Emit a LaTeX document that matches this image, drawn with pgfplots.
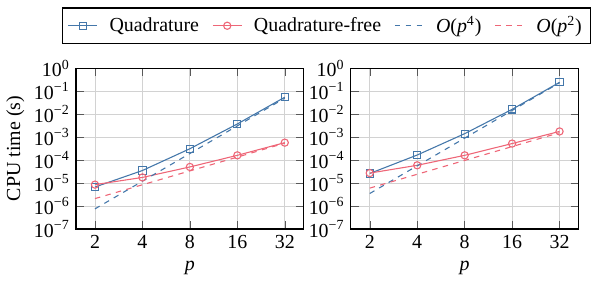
\documentclass[border=0pt]{standalone}
\usepackage{fontspec}
\setmainfont{Liberation Serif}
\usepackage{pgfplots}
\pgfplotsset{compat=1.18}
\definecolor{tolblue}{HTML}{4477AA}
\definecolor{tolred}{HTML}{EE6677}
\newcommand{\tp}[1]{10\textsuperscript{#1}}
\newcommand{\ffont}{\fontsize{11}{13}\selectfont}
\newcommand{\gapR}{\rule{5.3pt}{0pt}}
\begin{document}
\begin{tikzpicture}[font=\ffont]
\begin{axis}[name=left,
    scale only axis, width=125.8pt, height=88.9pt,
    xmode=log, ymode=log, log basis x=2,
    xmin=1.516, xmax=42.22, ymin=1e-7, ymax=1,
    xtick={2,4,8,16,32}, xticklabels={2,4,8,16,32},
    ytick={1e-7,1e-6,1e-5,1e-4,1e-3,1e-2,1e-1,1},
    yticklabels={\tp{−7},\tp{−6},\tp{−5},\tp{−4},\tp{−3},\tp{−2},\tp{−1},\tp{0}},
    yminorticks=false, xminorticks=false,
    grid=major, major grid style={gray!35, line width=0.5pt},
    axis line style={line width=0.6pt},
    tick style={gray!70!black},
    tick align=inside,
    tick label style={font=\ffont},
    label style={font=\ffont},
    xlabel={\textit{p}},
    every axis plot/.append style={line width=0.6pt},
    ylabel={CPU time (s)},
    ylabel style={yshift=-1.5pt},
    legend columns=4,
    legend image code/.code={\draw[mark repeat=2,mark phase=2] plot coordinates {(0cm,0cm) (0.28cm,0cm) (0.56cm,0cm)};},
    legend style={at={(1.1006,1.1496)}, anchor=south, draw=black, line width=0.6pt,
      font=\ffont, inner xsep=3pt, inner ysep=2.5pt},
    legend cell align=left]
\coordinate (O) at (rel axis cs:0,0);
\addplot[color=tolblue, mark=square, mark size=2pt] coordinates {(2,6.7e-6) (4,3.5e-5) (8,3.1e-4) (16,3.7e-3) (32,5.4e-2)};
\addlegendentry{\hspace{4.5pt}Quadrature\gapR}
\addplot[color=tolred, mark=o, mark size=2pt] coordinates {(2,8.5e-6) (4,1.75e-5) (8,5e-5) (16,1.6e-4) (32,5.7e-4)};
\addlegendentry{\hspace{4.5pt}Quadrature-free\gapR}
\addplot[color=tolblue, dashed] coordinates {(2,7.5e-7) (4,1.2e-5) (8,1.92e-4) (16,3.07e-3) (32,4.9e-2)};
\addlegendentry{\hspace{4.5pt}\textit{O}(\textit{p}\textsuperscript{4})\gapR}
\addplot[color=tolred, dashed] coordinates {(2,2.1e-6) (4,8.4e-6) (8,3.36e-5) (16,1.34e-4) (32,5.4e-4)};
\addlegendentry{\hspace{4.5pt}\textit{O}(\textit{p}\textsuperscript{2})}
\end{axis}
\begin{axis}[at={(left.south east)}, xshift=26pt, anchor=south west,
    scale only axis, width=125.8pt, height=88.9pt,
    xmode=log, ymode=log, log basis x=2,
    xmin=1.516, xmax=42.22, ymin=1e-7, ymax=1,
    xtick={2,4,8,16,32}, xticklabels={2,4,8,16,32},
    ytick={1e-7,1e-6,1e-5,1e-4,1e-3,1e-2,1e-1,1},
    yticklabels={\tp{−7},\tp{−6},\tp{−5},\tp{−4},\tp{−3},\tp{−2},\tp{−1},\tp{0}},
    yminorticks=false, xminorticks=false,
    grid=major, major grid style={gray!35, line width=0.5pt},
    axis line style={line width=0.6pt},
    tick style={gray!70!black},
    tick align=inside,
    tick label style={font=\ffont},
    label style={font=\ffont},
    xlabel={\textit{p}},
    every axis plot/.append style={line width=0.6pt}]
\addplot[color=tolblue, mark=square, mark size=2pt] coordinates {(2,2.6e-5) (4,1.65e-4) (8,1.4e-3) (16,1.6e-2) (32,0.24)};
\addplot[color=tolred, mark=o, mark size=2pt] coordinates {(2,2.7e-5) (4,5.9e-5) (8,1.6e-4) (16,5.2e-4) (32,1.75e-3)};
\addplot[color=tolblue, dashed] coordinates {(2,3.5e-6) (4,5.6e-5) (8,8.96e-4) (16,1.43e-2) (32,0.229)};
\addplot[color=tolred, dashed] coordinates {(2,6e-6) (4,2.4e-5) (8,9.6e-5) (16,3.84e-4) (32,1.54e-3)};
\end{axis}
\pgfresetboundingbox
\path ([shift={(-42pt,-29.9pt)}]O) rectangle ([shift={(284.5pt,126.5pt)}]O);
\end{tikzpicture}
\end{document}
